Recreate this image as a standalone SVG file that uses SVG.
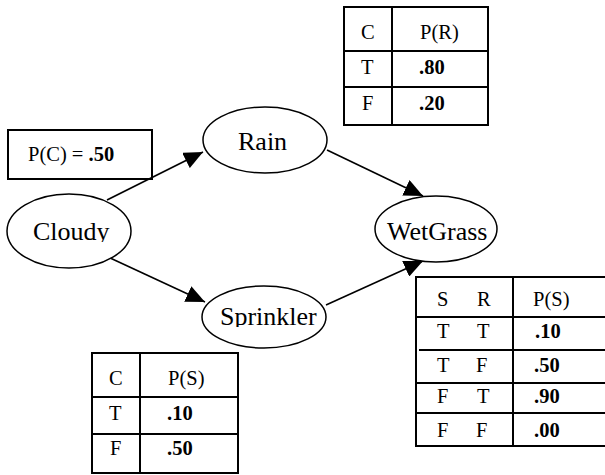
<svg xmlns="http://www.w3.org/2000/svg" width="605" height="475" viewBox="0 0 605 475">
<style>
text{font-family:'Liberation Serif','Times New Roman',Times,'DejaVu Serif',serif;fill:#000}
.node ellipse{fill:#fff;stroke:#000;stroke-width:1.5}
.lbl{font-size:26px}
.tb{fill:#fff;stroke:#000;stroke-width:2}
.tl{stroke:#000;stroke-width:2}
.t{font-size:20.5px}
.b{font-weight:bold}
.edge{stroke:#000;stroke-width:1.6;fill:none}
</style>
<defs>
<marker id="ah" viewBox="0 0 19 17" refX="19" refY="8.5" markerWidth="19" markerHeight="17" markerUnits="userSpaceOnUse" orient="auto">
<path d="M0,0 L19,8.5 L0,17 z" fill="#000"/>
</marker>
<clipPath id="clipCloudy"><rect x="0" y="180" width="140" height="62"/></clipPath>
<clipPath id="clipSpr"><rect x="195" y="280" width="140" height="47"/></clipPath>
</defs>
<rect width="605" height="475" fill="#fff"/>
<g id="connectors">
<path class="edge" d="M107,200 L203,152" marker-end="url(#ah)"/>
<path class="edge" d="M108,257 L205,302" marker-end="url(#ah)"/>
<path class="edge" d="M327,150 L423,196" marker-end="url(#ah)"/>
<path class="edge" d="M326,305 L423,261" marker-end="url(#ah)"/>
</g>
<g id="cpt-cloudy">
<rect class="tb" x="8" y="130" width="144" height="49" style="fill:none"/>
<text class="t" x="28" y="161" font-family="Liberation Serif, serif">P(C) = <tspan class="b">.50</tspan></text>
</g>
<g id="cloudy" class="node">
<ellipse cx="69" cy="231" rx="62" ry="37"/>
<text class="lbl" x="33" y="240" clip-path="url(#clipCloudy)">Cloudy</text>
</g>
<g id="rain" class="node">
<ellipse cx="265" cy="140" rx="62" ry="33"/>
<text class="lbl" x="238" y="150">Rain</text>
</g>
<g id="sprinkler" class="node">
<ellipse cx="264" cy="317" rx="62" ry="31"/>
<text class="lbl" x="220" y="325" clip-path="url(#clipSpr)">Sprinkler</text>
</g>
<g id="wetgrass" class="node">
<ellipse cx="436" cy="229" rx="61" ry="33"/>
<text class="lbl" x="387" y="240">WetGrass</text>
</g>
<g id="cpt-rain">
<rect class="tb" x="344" y="7" width="144" height="118"/>
<line class="tl" x1="392" y1="7" x2="392" y2="125"/>
<line class="tl" x1="344" y1="51" x2="488" y2="51"/>
<line class="tl" x1="344" y1="87" x2="488" y2="87"/>
<text class="t" x="361" y="39">C</text>
<text class="t" x="420" y="39">P(R)</text>
<text class="t" x="361" y="74">T</text>
<text class="t b" x="419" y="74">.80</text>
<text class="t" x="362" y="110">F</text>
<text class="t b" x="419" y="110">.20</text>
</g>
<g id="cpt-sprinkler">
<rect class="tb" x="92" y="353" width="146" height="120"/>
<line class="tl" x1="140" y1="353" x2="140" y2="473"/>
<line class="tl" x1="92" y1="397" x2="238" y2="397"/>
<line class="tl" x1="92" y1="434" x2="238" y2="434"/>
<text class="t" x="109" y="385">C</text>
<text class="t" x="168" y="385">P(S)</text>
<text class="t" x="109" y="420">T</text>
<text class="t b" x="167" y="420">.10</text>
<text class="t" x="110" y="455">F</text>
<text class="t b" x="167" y="455">.50</text>
</g>
<g id="cpt-wetgrass">
<rect class="tb" x="416" y="277" width="196" height="169"/>
<line class="tl" x1="513" y1="277" x2="513" y2="446"/>
<line class="tl" x1="416" y1="317" x2="605" y2="317"/>
<line class="tl" x1="419" y1="350" x2="605" y2="350"/>
<line class="tl" x1="416" y1="383" x2="605" y2="383"/>
<line class="tl" x1="416" y1="413" x2="605" y2="413"/>
<text class="t" x="437" y="306">S</text>
<text class="t" x="477" y="306">R</text>
<text class="t" x="533" y="306">P(S)</text>
<text class="t" x="437" y="338">T</text>
<text class="t" x="477" y="338">T</text>
<text class="t b" x="535" y="338">.10</text>
<text class="t" x="437" y="372">T</text>
<text class="t" x="476" y="372">F</text>
<text class="t b" x="534" y="372">.50</text>
<text class="t" x="437" y="403">F</text>
<text class="t" x="477" y="403">T</text>
<text class="t b" x="534" y="403">.90</text>
<text class="t" x="437" y="437">F</text>
<text class="t" x="476" y="437">F</text>
<text class="t b" x="534" y="437">.00</text>
</g>
</svg>
